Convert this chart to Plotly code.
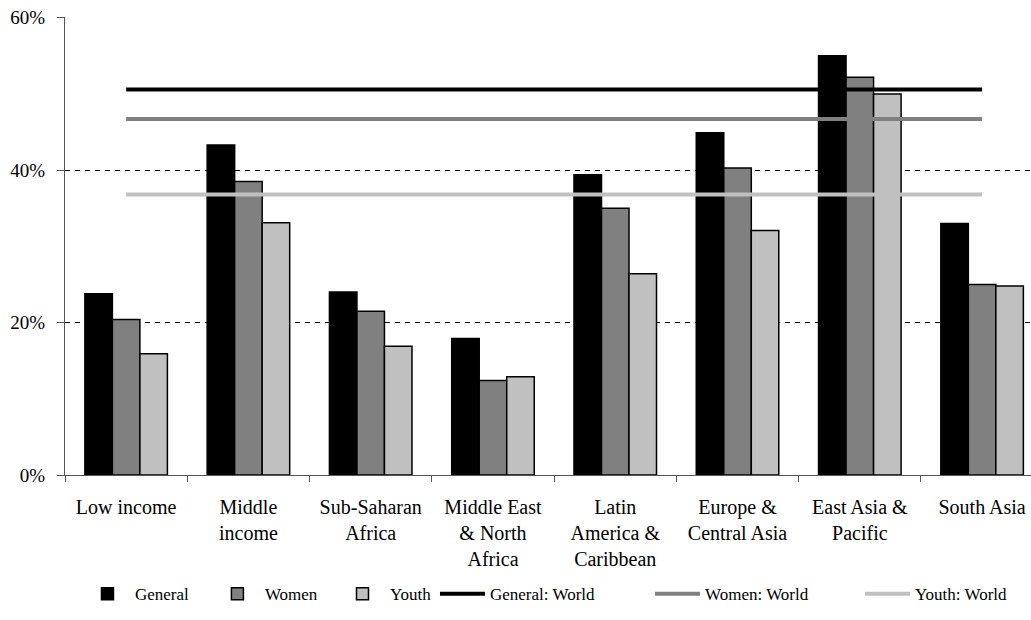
import plotly.graph_objects as go

# Regions (category keys) and their wrapped tick labels
regions = ["Low income", "Middle income", "Sub-Saharan Africa", "Middle East & North Africa",
           "Latin America & Caribbean", "Europe & Central Asia", "East Asia & Pacific", "South Asia"]
region_labels = ["Low income", "Middle<br>income", "Sub-Saharan<br>Africa", "Middle East<br>& North<br>Africa",
                 "Latin<br>America &<br>Caribbean", "Europe &<br>Central Asia", "East Asia &<br>Pacific", "South Asia"]

# Shares (%) by region
general = [23.8, 43.3, 24.0, 17.9, 39.4, 44.9, 55.0, 33.0]
women = [20.4, 38.5, 21.5, 12.4, 35.0, 40.3, 52.2, 25.0]
youth = [15.9, 33.1, 16.9, 12.9, 26.4, 32.1, 50.0, 24.8]

# World averages (%)
general_world = 50.6
women_world = 46.7
youth_world = 36.8

y_ticks = [0, 20, 40, 60]
y_tick_text = ["0%", "20%", "40%", "60%"]

FONT = "Liberation Serif"

fig = go.Figure()

# one legend box per entry so the key row can be spaced freely
legend_ids = ["legend", "legend2", "legend3", "legend4", "legend5", "legend6"]
legend_x = [0.0155, 0.150, 0.2795, 0.383, 0.6056, 0.823]

bar_series = [("General", general, "#000000"), ("Women", women, "#808080"), ("Youth", youth, "#c0c0c0")]
for i, (name, vals, col) in enumerate(bar_series):
    fig.add_trace(go.Bar(
        x=regions, y=vals, name=name,
        marker=dict(color=col, line=dict(color="#000000", width=1.5)),
        legend=legend_ids[i],
    ))

line_series = [("General: World", general_world, "#000000"),
               ("Women: World", women_world, "#808080"),
               ("Youth: World", youth_world, "#c0c0c0")]
for i, (name, val, col) in enumerate(line_series):
    fig.add_trace(go.Scatter(
        x=regions, y=[val] * len(regions), name=name, mode="lines",
        line=dict(color=col, width=4),
        legend=legend_ids[3 + i],
    ))

legend_style = dict(orientation="h", xanchor="left", y=-0.26, yanchor="middle",
                    font=dict(family=FONT, size=17, color="#000000"),
                    itemwidth=45, bgcolor="rgba(0,0,0,0)")

fig.update_layout(
    width=1031, height=620,
    margin=dict(l=65, r=0, t=17, b=145),
    paper_bgcolor="white", plot_bgcolor="white",
    font=dict(family=FONT, size=18, color="#000000"),
    barmode="group", bargap=0.325, bargroupgap=0,
    showlegend=True,
    **{lid: dict(x=lx, **legend_style) for lid, lx in zip(legend_ids, legend_x)},
)

fig.update_xaxes(
    type="category", range=[-0.5, 7.4],
    tickmode="array", tickvals=regions, ticktext=region_labels,
    tickson="boundaries", ticks="outside", ticklen=6, tickcolor="#555555",
    showline=True, linecolor="#555555", linewidth=1,
    showgrid=False, tickangle=0,
    tickfont=dict(family=FONT, size=20),
    ticklabelstandoff=14,
)

fig.update_yaxes(
    range=[0, 60.1], tickmode="array", tickvals=y_ticks, ticktext=y_tick_text,
    ticks="outside", ticklen=7, tickcolor="#555555",
    showline=True, linecolor="#555555", linewidth=1,
    showgrid=True, gridcolor="#000000", gridwidth=1, griddash="5px,5px",
    zeroline=False,
    tickfont=dict(family=FONT, size=19),
    ticklabelstandoff=8,
)

fig.write_html("out.html")
